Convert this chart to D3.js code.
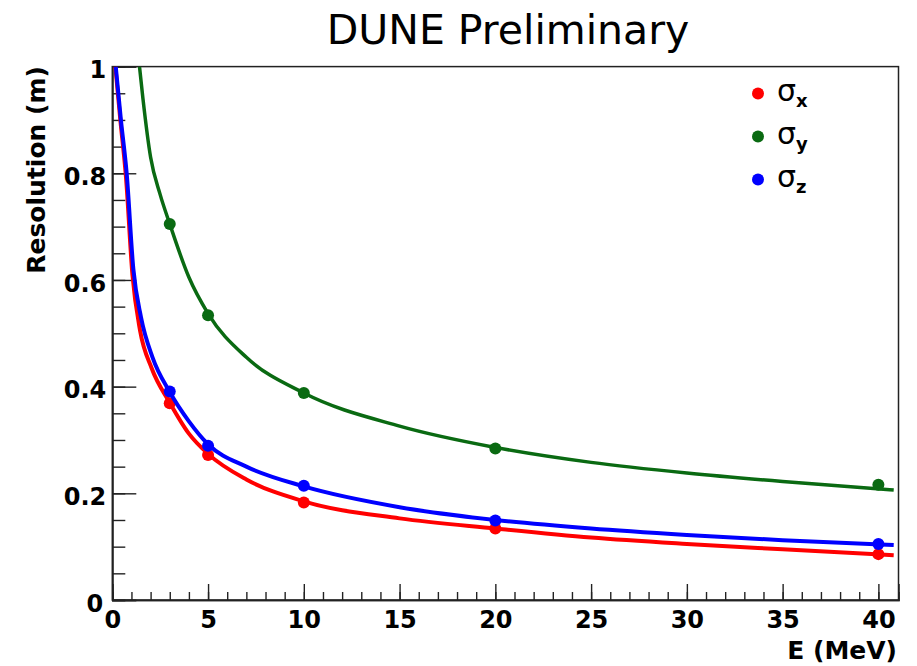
<!DOCTYPE html>
<meta charset="utf-8">
<script src="https://d3js.org/d3.v7.min.js"></script>
<style>
  body { margin: 0; background: #fff; }
  text { font-family: "DejaVu Sans", sans-serif; }
</style>
<div id="chart"></div>
<script>
  // measured points (E in MeV, resolution in m)
  var energies = [3, 5, 10, 20, 40];
  var sigmaX = [0.369, 0.272, 0.183, 0.134, 0.086];
  var sigmaY = [0.705, 0.534, 0.388, 0.284, 0.216];
  var sigmaZ = [0.391, 0.289, 0.214, 0.149, 0.105];

  // fit curves
  var fitXE = [0.16, 0.42, 0.72, 1.05, 1.45, 2.05, 3, 4, 5, 7, 10, 15, 20, 25, 30, 35, 40.8];
  var fitXV = [1.0, 0.9, 0.79, 0.61, 0.505, 0.435, 0.37, 0.312, 0.274, 0.226, 0.185, 0.153, 0.134, 0.117, 0.105, 0.095, 0.084];
  var fitYE = [1.42, 1.6, 2.0, 2.5, 3, 4, 5, 7, 10, 15, 20, 25, 30, 35, 40.8];
  var fitYV = [1.0, 0.94, 0.83, 0.76, 0.705, 0.605, 0.537, 0.455, 0.388, 0.326, 0.286, 0.258, 0.238, 0.222, 0.206];
  var fitZE = [0.18, 0.45, 0.75, 1.1, 1.5, 2.1, 3, 4, 5, 7, 10, 15, 20, 25, 30, 35, 40.8];
  var fitZV = [1.0, 0.9, 0.8, 0.62, 0.53, 0.455, 0.39, 0.335, 0.292, 0.25, 0.213, 0.174, 0.150, 0.134, 0.122, 0.112, 0.103];

  var xTicks = [0, 5, 10, 15, 20, 25, 30, 35, 40];
  var yTicks = [0, 0.2, 0.4, 0.6, 0.8, 1];

  var series = [
    {name: "x", color: "#ff0000", width: 4, pts: sigmaX, fe: fitXE, fv: fitXV},
    {name: "y", color: "#0a6a12", width: 3.5, pts: sigmaY, fe: fitYE, fv: fitYV},
    {name: "z", color: "#0000ff", width: 4, pts: sigmaZ, fe: fitZE, fv: fitZV}
  ];

  var W = 917, H = 666;
  var margin = {top: 66.6, right: 18.5, bottom: 66, left: 112.3},
      width = W - margin.left - margin.right,
      height = H - margin.top - margin.bottom;

  var svg = d3.select("#chart").append("svg")
      .attr("width", W).attr("height", H);
  var g = svg.append("g")
      .attr("transform", "translate(" + margin.left + "," + margin.top + ")");

  var x = d3.scaleLinear().domain([0, 41.05]).range([0, width]);
  var y = d3.scaleLinear().domain([0, 1]).range([height, 0]);

  svg.append("defs").append("clipPath").attr("id", "clip")
    .append("rect").attr("width", width).attr("height", height);

  // frame
  g.append("rect")
    .attr("width", width).attr("height", height)
    .attr("fill", "none").attr("stroke", "#222").attr("stroke-width", 1.5);

  function styleAxis(sel) {
    sel.selectAll(".domain").attr("stroke", "#222").attr("stroke-width", 1.5);
    sel.selectAll(".tick line").attr("stroke", "#222").attr("stroke-width", 1.4);
    sel.selectAll("text")
      .attr("font-size", 24).attr("font-weight", "bold").attr("fill", "#000")
      .attr("font-family", "DejaVu Sans, sans-serif");
  }

  // x axis: ticks pointing up
  var xMinor = g.append("g").attr("transform", "translate(0," + height + ")")
    .call(d3.axisBottom(x).tickValues(d3.range(0, 41, 1)).tickSize(-8).tickFormat(""));
  var xMajor = g.append("g").attr("transform", "translate(0," + height + ")")
    .call(d3.axisBottom(x).tickValues(xTicks).tickSize(-16).tickFormat(d3.format("d")).tickPadding(11));
  styleAxis(xMinor);
  styleAxis(xMajor);

  // y axis: ticks pointing right
  var yMinor = g.append("g")
    .call(d3.axisLeft(y).tickValues(d3.range(0, 1.001, 0.05)).tickSize(-13).tickFormat(""));
  var yMajor = g.append("g")
    .call(d3.axisLeft(y).tickValues(yTicks).tickSize(-24).tickPadding(6)
      .tickFormat(function (d) { return d === 0 || d === 1 ? d3.format("d")(d) : d3.format(".1f")(d); }));
  styleAxis(yMinor);
  styleAxis(yMajor);
  yMajor.selectAll("text").attr("dy", "0.47em");
  yMajor.selectAll("text").filter(function (d) { return d === 0; }).attr("x", -9);

  // fit lines
  var line = d3.line()
    .x(function (d) { return x(d[0]); })
    .y(function (d) { return y(d[1]); })
    .curve(d3.curveMonotoneX);

  var plot = g.append("g").attr("clip-path", "url(#clip)");
  series.forEach(function (s) {
    var pts = s.fe.map(function (e, i) { return [e, s.fv[i]]; });
    plot.append("path")
      .datum(pts)
      .attr("fill", "none")
      .attr("stroke", s.color)
      .attr("stroke-width", s.width)
      .attr("d", line);
    plot.selectAll(".dot-" + s.name)
      .data(energies)
      .enter()
      .append("circle")
      .attr("cx", function (d) { return x(d); })
      .attr("cy", function (d, i) { return y(s.pts[i]); })
      .attr("r", 6)
      .attr("fill", s.color);
  });

  // title
  svg.append("text")
    .attr("x", 508).attr("y", 44)
    .attr("text-anchor", "middle")
    .attr("font-size", 41)
    .text("DUNE Preliminary");

  // axis titles
  svg.append("text")
    .attr("x", 897).attr("y", 659)
    .attr("text-anchor", "end")
    .attr("font-size", 25).attr("font-weight", "bold")
    .text("E (MeV)");

  svg.append("text")
    .attr("transform", "translate(45,66) rotate(-90)")
    .attr("text-anchor", "end")
    .attr("font-size", 25).attr("font-weight", "bold")
    .text("Resolution (m)");

  // legend
  var legend = svg.append("g").selectAll("g")
    .data(series)
    .enter()
    .append("g")
    .attr("transform", function (d, i) { return "translate(758," + (93.5 + i * 43) + ")"; });

  legend.append("circle")
    .attr("r", 6)
    .attr("fill", function (d) { return d.color; });

  var lt = legend.append("text")
    .attr("x", 19).attr("y", 7)
    .attr("font-size", 30);
  lt.append("tspan").text("σ");
  lt.append("tspan")
    .attr("font-size", 18).attr("font-weight", "bold").attr("dy", 6)
    .text(function (d) { return d.name; });
</script>
